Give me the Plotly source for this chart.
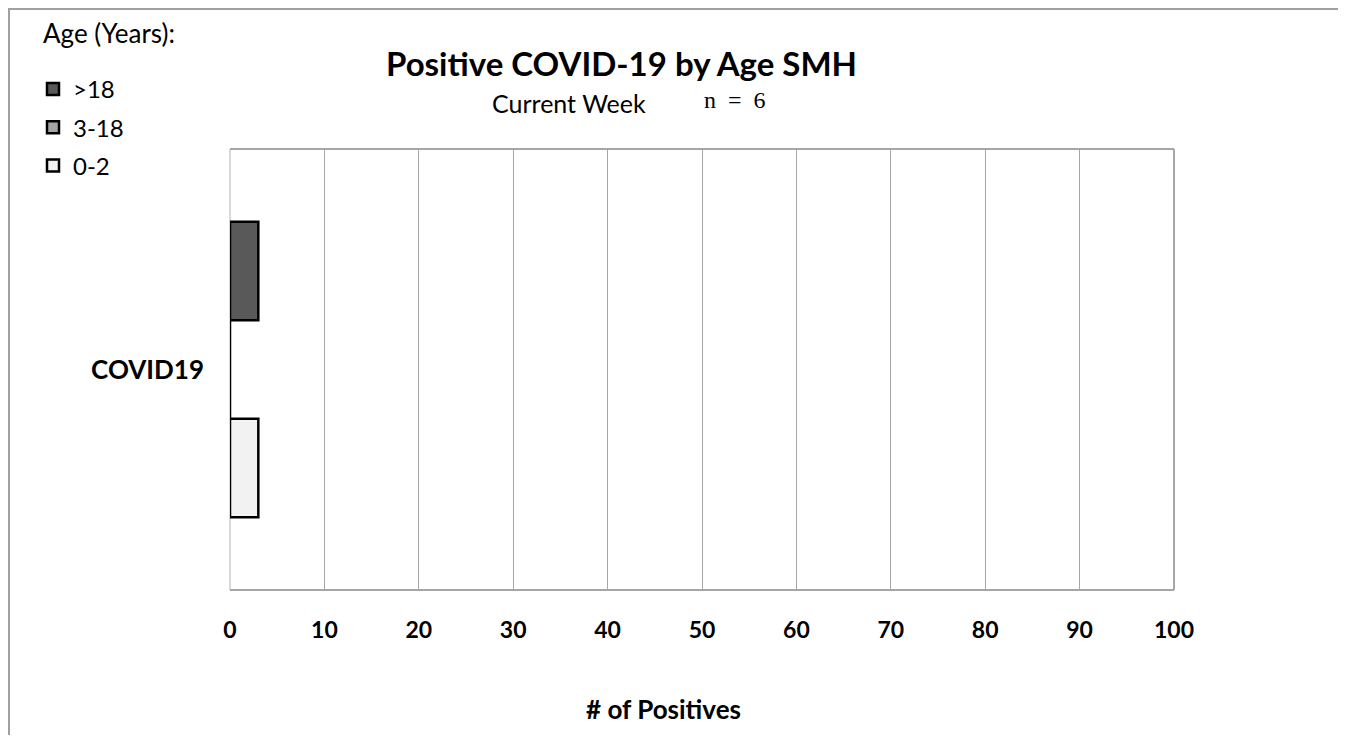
import plotly.graph_objects as go

# ---- data ----
categories = ["COVID19"]
series_names = [">18", "3-18", "0-2"]
values_gt18 = [3]
values_3_18 = [0]
values_0_2 = [3]
x_ticks = [0, 10, 20, 30, 40, 50, 60, 70, 80, 90, 100]

colors = {">18": "#595959", "3-18": "#a6a6a6", "0-2": "#f2f2f2"}
series_values = {">18": values_gt18, "3-18": values_3_18, "0-2": values_0_2}

OFF = 8  # page body margin
W, H = 1346 - OFF, 743 - 2 * OFF
L, R, T, B = 230, 1174, 149, 590  # plot area in page px

def px_x(p):
    return (p - L) / (R - L)

def px_y(p):
    return (B - p) / (B - T)

fig = go.Figure()
# plotly places the first trace at the bottom: add 0-2 first
for i, name in enumerate(["0-2", "3-18", ">18"]):
    fig.add_trace(go.Bar(
        y=categories, x=series_values[name], name=name, orientation="h",
        marker=dict(color=colors[name], line=dict(color="#000000", width=2.5)),
        legendgroup=name, legendrank=3 - i,
    ))

font_main = "Lato, Calibri, Carlito, sans-serif"

fig.update_layout(
    width=W, height=H,
    margin=dict(l=L - OFF, r=W - (R - OFF), t=T - OFF, b=H - (B - OFF)),
    paper_bgcolor="white", plot_bgcolor="white",
    barmode="group", bargap=0.33, bargroupgap=0,
    font=dict(family=font_main, color="#000000", size=18),
    showlegend=True,
    legend=dict(
        x=px_x(33), y=px_y(67), xanchor="left", yanchor="top",
        traceorder="grouped", tracegroupgap=4,
        font=dict(size=24, family=font_main),
        bgcolor="rgba(0,0,0,0)",
    ),
    xaxis=dict(
        range=[0, 100], tickvals=x_ticks, ticktext=[str(v) for v in x_ticks],
        showgrid=True, gridcolor="#a6a6a6", gridwidth=1,
        zeroline=False, showline=False, ticks="",
        tickfont=dict(size=23, family=font_main, weight="bold"),
        ticklabelstandoff=24, fixedrange=True,
    ),
    yaxis=dict(
        showgrid=False, zeroline=False, showline=False, ticks="",
        tickfont=dict(size=26, family=font_main, weight="bold"),
        ticklabelstandoff=25, fixedrange=True,
    ),
    shapes=[
        # plot area frame
        dict(type="line", xref="paper", yref="paper", x0=0, x1=1, y0=1, y1=1,
             line=dict(color="#a6a6a6", width=2)),
        dict(type="line", xref="paper", yref="paper", x0=0, x1=1, y0=0, y1=0,
             line=dict(color="#a6a6a6", width=2)),
        dict(type="line", xref="paper", yref="paper", x0=1, x1=1, y0=0, y1=1,
             line=dict(color="#a6a6a6", width=2)),
        dict(type="line", xref="paper", yref="paper", x0=0, x1=0, y0=0, y1=1,
             line=dict(color="#d9d9d9", width=2), layer="below"),
        # outer chart border
        dict(type="rect", xref="paper", yref="paper",
             x0=px_x(9), x1=px_x(1342), y0=px_y(780), y1=px_y(9),
             line=dict(color="#a0a0a0", width=2), fillcolor="rgba(0,0,0,0)"),
    ],
    annotations=[
        dict(text="<b>Positive COVID-19 by Age SMH</b>", xref="paper", yref="paper",
             x=px_x(621), y=px_y(63), xanchor="center", yanchor="middle",
             showarrow=False, font=dict(size=33, family=font_main)),
        dict(text="Current Week", xref="paper", yref="paper",
             x=px_x(569), y=px_y(103), xanchor="center", yanchor="middle",
             showarrow=False, font=dict(size=25, family=font_main)),
        dict(text="n\u2002=\u20026", xref="paper", yref="paper",
             x=px_x(735), y=px_y(100), xanchor="center", yanchor="middle",
             showarrow=False, font=dict(size=24, family="Liberation Serif, Times New Roman, serif")),
        dict(text="Age (Years):", xref="paper", yref="paper",
             x=px_x(41), y=px_y(33), xanchor="left", yanchor="middle",
             showarrow=False, font=dict(size=26, family=font_main)),
        dict(text="<b># of Positives</b>", xref="paper", yref="paper",
             x=px_x(663), y=px_y(709), xanchor="center", yanchor="middle",
             showarrow=False, font=dict(size=26, family=font_main)),
    ],
)

fig.write_html("out.html")
